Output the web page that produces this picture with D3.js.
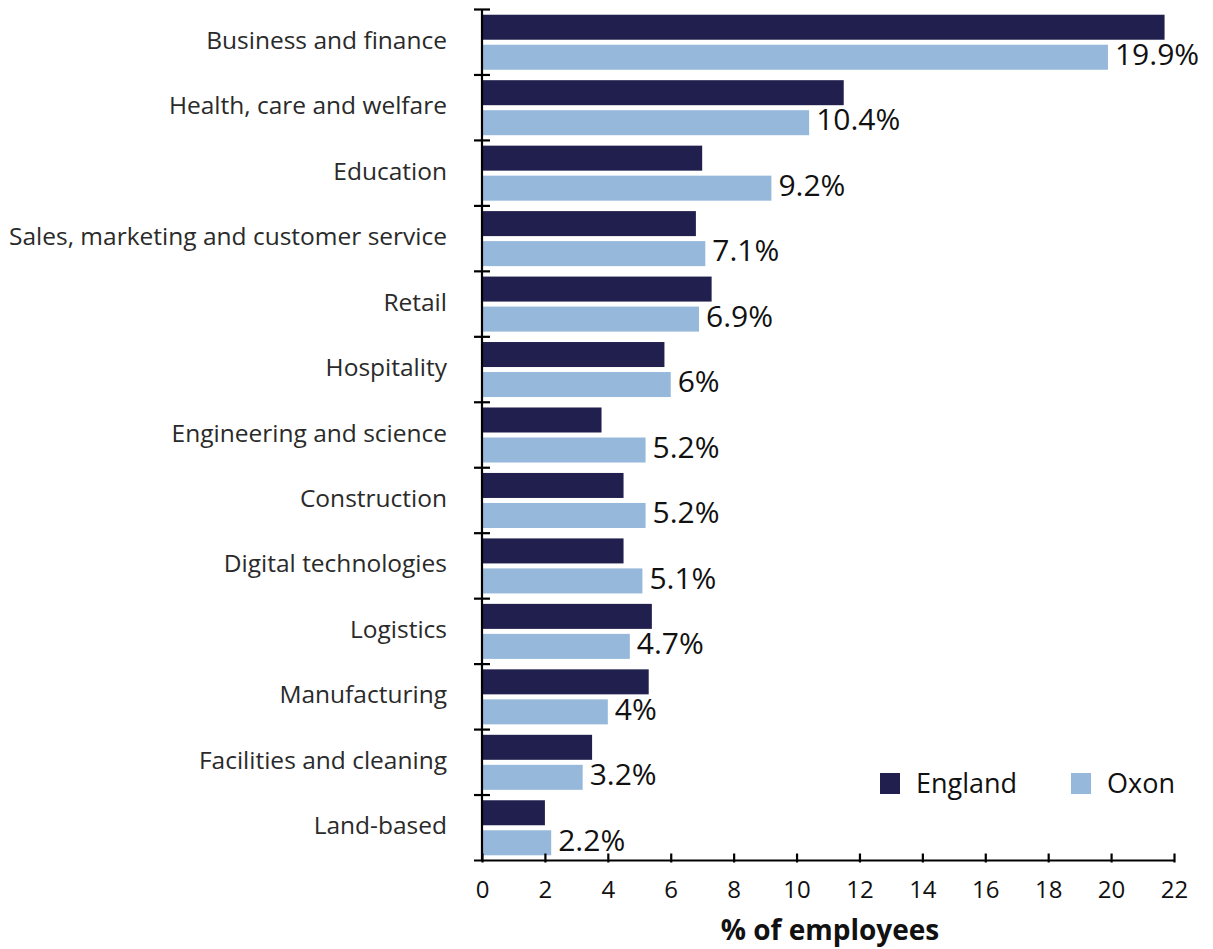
<!DOCTYPE html>
<html><head><meta charset="utf-8">
<script src="https://cdn.jsdelivr.net/npm/d3@7"></script>
<style>body{margin:0;background:#fff;} svg{display:block;}</style>
</head><body>
<div id="chart"></div>
<script>
const categories = ["Business and finance","Health, care and welfare","Education","Sales, marketing and customer service","Retail","Hospitality","Engineering and science","Construction","Digital technologies","Logistics","Manufacturing","Facilities and cleaning","Land-based"];
const england = [21.7,11.5,7.0,6.8,7.3,5.8,3.8,4.5,4.5,5.4,5.3,3.5,2.0];
const oxon = [19.9,10.4,9.2,7.1,6.9,6,5.2,5.2,5.1,4.7,4,3.2,2.2];
const seriesNames = ["England","Oxon"];
const colors = ["#201f4d","#95b8db"];
const xTicks = [0,2,4,6,8,10,12,14,16,18,20,22];

const W = 1213, H = 949;
const svg = d3.select("#chart").append("svg").attr("width", W).attr("height", H);
const x = d3.scaleLinear().domain([0,22]).range([482,1174]);
const y = d3.scaleBand().domain(categories).range([9.5,860.5]).padding(0);
const y1 = d3.scaleBand().domain(seriesNames).range([0,y.bandwidth()]).paddingInner(0.167).paddingOuter(0.174);

const font = "'Open Sans', sans-serif";
const data = categories.map((c,i)=>({cat:c, vals:[england[i], oxon[i]]}));

const g = svg.append("g");
data.forEach(d=>{
  seriesNames.forEach((s,j)=>{
    g.append("rect")
      .attr("x", x(0)+1).attr("y", y(d.cat)+y1(s))
      .attr("width", x(d.vals[j])-x(0)-1).attr("height", y1.bandwidth())
      .attr("fill", colors[j]);
  });
  g.append("text")
    .attr("x", x(d.vals[1])+7).attr("y", y(d.cat)+y1("Oxon")+y1.bandwidth()/2 - 3)
    .attr("dy","0.36em")
    .attr("font-family", font).attr("font-size", 30).attr("fill","#111")
    .text(d3.format("")(d.vals[1])+"%");
});

// y axis
const yAxis = svg.append("g").attr("transform", `translate(${x(0)},0)`);
yAxis.append("line").attr("y1",9.5).attr("y2",860.5).attr("stroke","#000").attr("stroke-width",2.2);
const bounds = categories.map(c=>y(c));
yAxis.selectAll("line.tk").data(bounds).join("line").attr("class","tk")
  .attr("x1",-8).attr("x2",8).attr("y1",d=>d).attr("y2",d=>d).attr("stroke","#000").attr("stroke-width",2.2);
yAxis.selectAll("text").data(categories).join("text")
  .attr("x",-35).attr("y",d=>y(d)+y.bandwidth()/2 - 2)
  .attr("text-anchor","end").attr("dy","0.35em")
  .attr("font-family",font).attr("font-size",24.5).attr("fill","#2a2a2a")
  .text(d=>d);

// x axis
const xAxisG = svg.append("g").attr("transform","translate(0,860.5)");
const xAxis = d3.axisBottom(x).tickValues(xTicks).tickSize(0).tickPadding(20);
xAxisG.call(xAxis);
xAxisG.select(".domain").remove();
xAxisG.append("line").attr("x1",474).attr("x2",x(22)).attr("stroke","#000").attr("stroke-width",2.2);
xAxisG.selectAll(".tick").append("line").attr("y1",-7).attr("y2",2).attr("stroke","#000").attr("stroke-width",2.2);
xAxisG.selectAll(".tick text").attr("font-family",font).attr("font-size",24).attr("fill","#111");

svg.append("text").attr("x",830).attr("y",940).attr("text-anchor","middle")
  .attr("font-family",font).attr("font-weight","bold").attr("font-size",28).attr("fill","#111")
  .text("% of employees");

// legend
const legendX = [880, 1071];
seriesNames.forEach((s,j)=>{
  svg.append("rect").attr("x",legendX[j]).attr("y",773).attr("width",20).attr("height",21).attr("fill",colors[j]);
  svg.append("text").attr("x",legendX[j]+36).attr("y",783).attr("dy","0.36em")
    .attr("font-family",font).attr("font-size",27).attr("fill","#111").text(s);
});
</script>
</body></html>
